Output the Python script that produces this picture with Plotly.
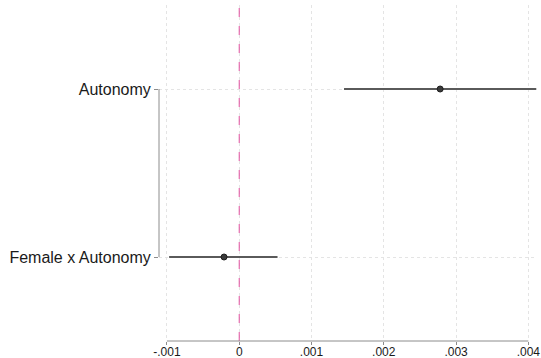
import plotly.graph_objects as go

# Data
categories = ["Autonomy", "Female x Autonomy"]
coef = [0.00278, -0.00021]
ci_low = [0.00145, -0.00097]
ci_high = [0.00411, 0.00053]
x_ticks = [-0.001, 0, 0.001, 0.002, 0.003, 0.004]
x_tick_labels = ["-.001", "0", ".001", ".002", ".003", ".004"]
y_pos = [1, 2]

err_plus = [h - c for h, c in zip(ci_high, coef)]
err_minus = [c - l for c, l in zip(coef, ci_low)]

fig = go.Figure()
fig.add_trace(go.Scatter(
    x=coef, y=y_pos, mode="markers",
    marker=dict(size=6, color="#3a3a3a", line=dict(color="#1e1e1e", width=1)),
    error_x=dict(type="data", array=err_plus, arrayminus=err_minus,
                 width=0, thickness=2, color="#5a5a5a"),
    showlegend=False,
))

# reference line at zero
fig.add_shape(type="line", xref="x", yref="paper", x0=0, x1=0, y0=0, y1=1,
              line=dict(color="#e0509f", width=1, dash="dash"), layer="above")
# Stata-style axis lines spanning tick range only
fig.add_shape(type="line", xref="x", yref="paper", x0=x_ticks[0], x1=x_ticks[-1],
              y0=0, y1=0, line=dict(color="#8c8c8c", width=1))
fig.add_shape(type="line", xref="paper", yref="y", x0=0, x1=0,
              y0=y_pos[0], y1=y_pos[-1], line=dict(color="#8c8c8c", width=1))

fig.update_layout(
    width=541, height=358,
    margin=dict(l=159, r=4, t=5, b=17),
    paper_bgcolor="white", plot_bgcolor="white",
    font=dict(family="Liberation Sans, Arial, sans-serif", color="#1a1a1a"),
    xaxis=dict(
        range=[-0.00111, 0.00412],
        tickvals=x_ticks, ticktext=x_tick_labels,
        tickfont=dict(size=12, color="#1a1a1a"),
        ticks="outside", ticklen=3, tickcolor="#8c8c8c",
        ticklabelstandoff=-3,
        showgrid=True, gridcolor="#e4e4e4", griddash="dot", gridwidth=1,
        zeroline=False, showline=False, automargin=False,
    ),
    yaxis=dict(
        range=[2.5, 0.5],
        tickvals=y_pos, ticktext=categories,
        tickfont=dict(size=16, color="#1a1a1a"),
        ticks="outside", ticklen=4, tickcolor="#8c8c8c",
        showgrid=True, gridcolor="#e4e4e4", griddash="dot", gridwidth=1,
        zeroline=False, showline=False, automargin=False,
    ),
)

fig.write_html(
    "out.html",
    config={"displayModeBar": False},
    post_script="document.body.style.margin='0';document.body.style.overflow='hidden';",
)
